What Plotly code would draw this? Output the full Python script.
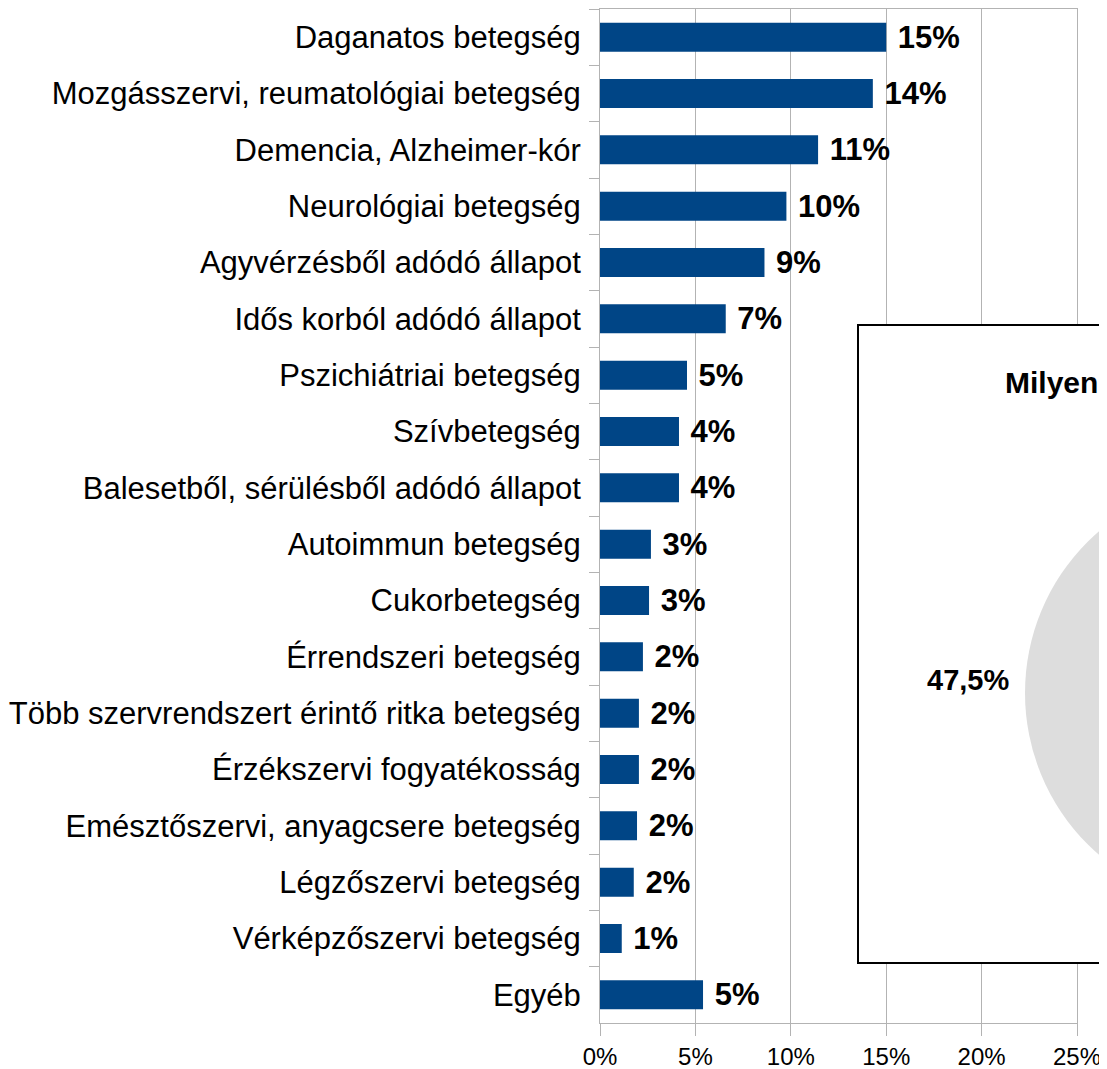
import plotly.graph_objects as go

# ---- data ----
categories = [
    "Daganatos betegség",
    "Mozgásszervi, reumatológiai betegség",
    "Demencia, Alzheimer-kór",
    "Neurológiai betegség",
    "Agyvérzésből adódó állapot",
    "Idős korból adódó állapot",
    "Pszichiátriai betegség",
    "Szívbetegség",
    "Balesetből, sérülésből adódó állapot",
    "Autoimmun betegség",
    "Cukorbetegség",
    "Érrendszeri betegség",
    "Több szervrendszert érintő ritka betegség",
    "Érzékszervi fogyatékosság",
    "Emésztőszervi, anyagcsere betegség",
    "Légzőszervi betegség",
    "Vérképzőszervi betegség",
    "Egyéb",
]
values = [15.0, 14.3, 11.43, 9.77, 8.62, 6.59, 4.56, 4.14, 4.14,
          2.67, 2.57, 2.25, 2.04, 2.04, 1.94, 1.77, 1.14, 5.40]
x_tick_values = [0, 5, 10, 15, 20, 25]
x_tick_labels = ["0%", "5%", "10%", "15%", "20%", "25%"]

inset_title = "Milyen"
inset_slice_label = "47,5%"

# ---- layout geometry (page has an 8px body margin) ----
OFF = 8
W, H = 1107, 1069
L, R, T, B = 592, 38, 1, 54
PW, PH = W - L - R, H - T - B


def px(xp):
    return (xp - OFF - L) / PW


def py(yp):
    return (H - B - (yp - OFF)) / PH


FONT = "Liberation Sans, Arial, sans-serif"
GRID = "#b3b3b3"

fig = go.Figure(
    go.Bar(
        y=categories,
        x=values,
        orientation="h",
        marker=dict(color="#004586", line=dict(width=0)),
        texttemplate="\u00a0%{x:.0f}%",
        textposition="outside",
        textfont=dict(family=FONT, size=31, color="black", weight="bold"),
        cliponaxis=False,
        constraintext="none",
    )
)

fig.update_layout(
    width=W,
    height=H,
    margin=dict(l=L, r=R, t=T, b=B, pad=0),
    paper_bgcolor="white",
    plot_bgcolor="white",
    bargap=0.485,
    showlegend=False,
    font=dict(family=FONT, color="black"),
    xaxis=dict(
        range=[0, 25],
        tickvals=x_tick_values,
        ticktext=x_tick_labels,
        tickfont=dict(size=24, color="black"),
        showgrid=True,
        gridcolor=GRID,
        gridwidth=1,
        zeroline=False,
        showline=True,
        linecolor=GRID,
        linewidth=1,
        mirror=True,
        ticks="outside",
        ticklen=12,
        tickcolor=GRID,
        ticklabelstandoff=0,
        automargin=False,
    ),
    yaxis=dict(
        type="category",
        autorange="reversed",
        tickson="boundaries",
        ticks="outside",
        ticklen=10,
        tickcolor=GRID,
        tickfont=dict(size=31, color="black"),
        ticklabelstandoff=12,
        showgrid=False,
        showline=True,
        linecolor=GRID,
        linewidth=1,
        mirror=True,
        automargin=False,
    ),
)

# ---- overlapping inset (partially visible second chart) ----
fig.add_shape(
    type="rect", xref="paper", yref="paper",
    x0=px(858), x1=px(1130), y0=py(963), y1=py(325),
    line=dict(color="black", width=2), fillcolor="white", layer="above",
)
fig.add_shape(
    type="circle", xref="paper", yref="paper",
    x0=px(1025), x1=px(1453), y0=py(907), y1=py(479),
    line=dict(width=0), fillcolor="#dddddd", layer="above",
)
fig.add_annotation(
    text="<b>" + inset_title + "</b>",
    xref="paper", yref="paper", x=px(1003), y=py(382),
    xanchor="left", yanchor="middle", showarrow=False,
    font=dict(family=FONT, size=30, color="black"),
)
fig.add_annotation(
    text="<b>" + inset_slice_label + "</b>",
    xref="paper", yref="paper", x=px(968), y=py(680),
    xanchor="center", yanchor="middle", showarrow=False,
    font=dict(family=FONT, size=29, color="black"),
)

fig.write_html("out.html")
